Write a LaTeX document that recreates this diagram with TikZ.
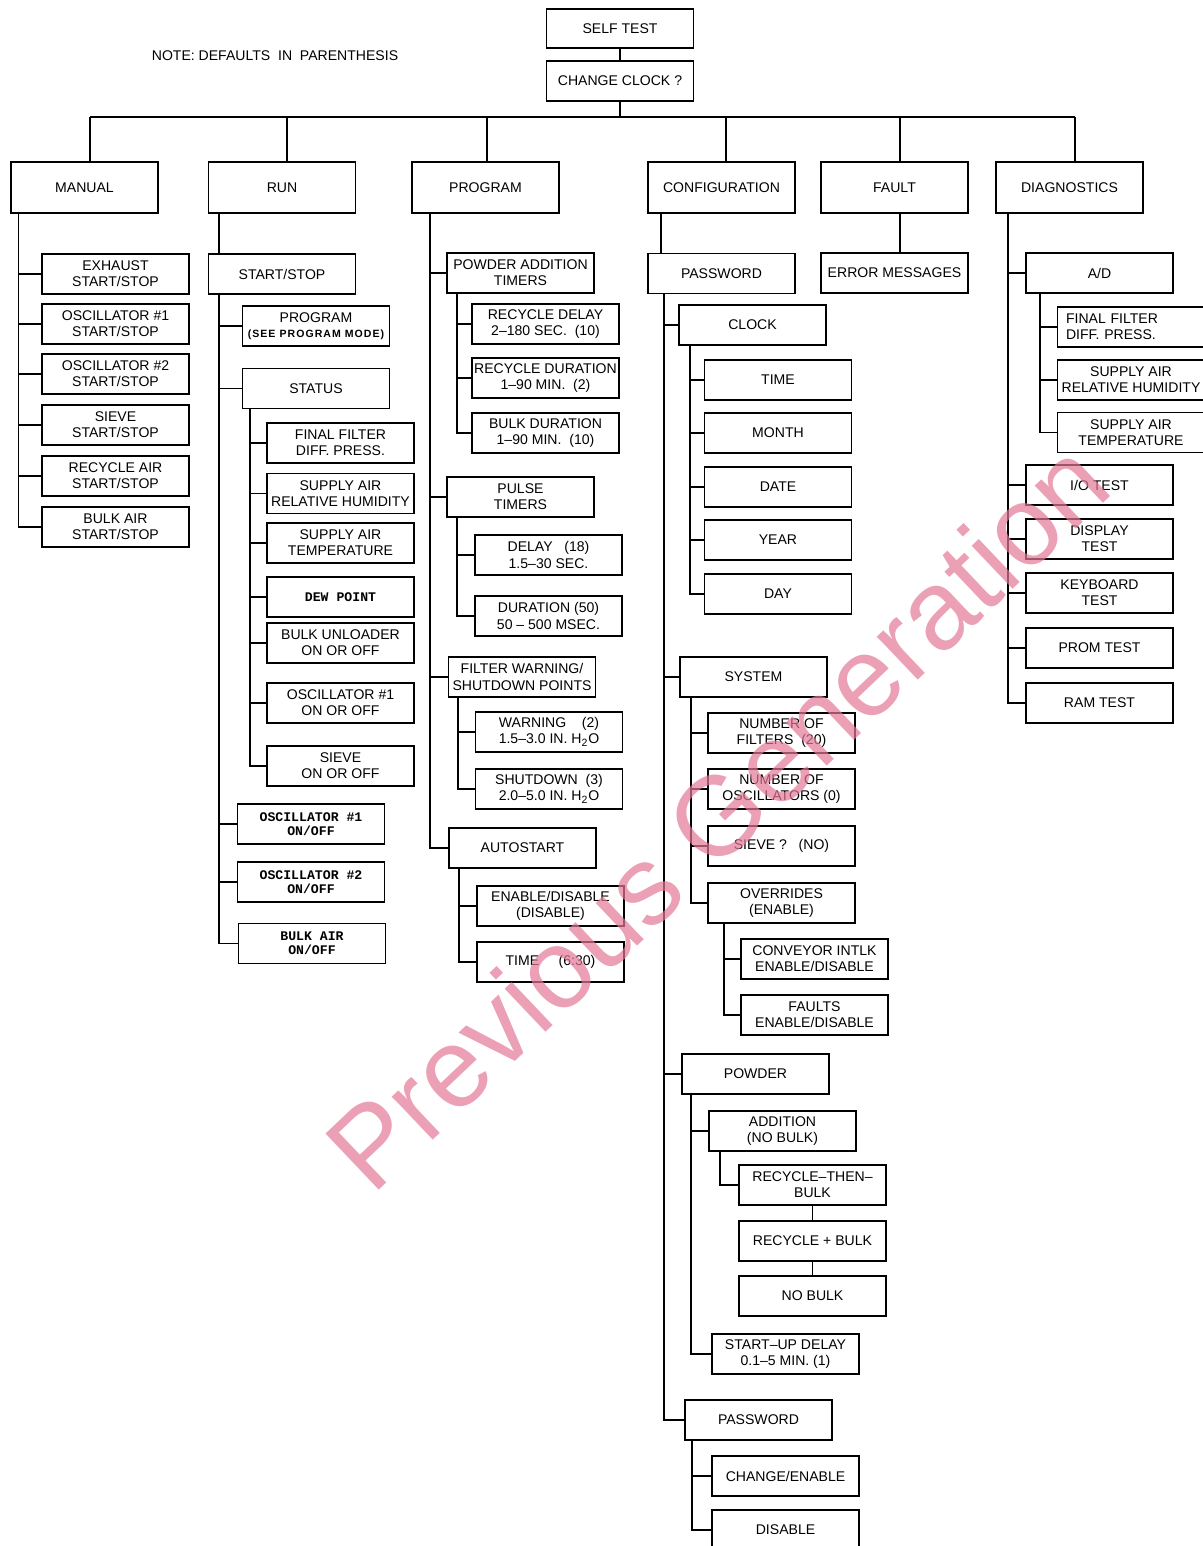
\documentclass[tikz,border=0pt]{standalone}
\usepackage{fontspec}
\setmainfont{Liberation Sans}
\setmonofont{Liberation Mono}
\newcommand\boxfont{\fontsize{8}{9.2}\selectfont}
\newcommand\pinfont{\ttfamily\bfseries\fontsize{7.5}{7.8}\selectfont}
\definecolor{stamp}{RGB}{226,120,150}
\tikzset{
  box/.style={draw,line width=0.85pt,minimum width=2.94cm,minimum height=0.8cm,align=center,inner sep=1pt,font=\boxfont},
  head/.style={box,minimum height=1.02cm},
  pin/.style={box,font=\pinfont},
  wire/.style={line width=0.6pt}
}
\begin{document}
\begin{tikzpicture}[x=0.02cm,y=-0.02cm]
\useasboundingbox (0,0) rectangle (1203,1546);
% top of the tree
\node[box,minimum height=0.78cm] (self) at (620,28.5) {SELF TEST};
\node[box] (clk) at (620,81) {CHANGE CLOCK ?};
\node[font=\boxfont] (note) at (275,56) {NOTE:\ DEFAULTS\ \ IN\ \ PARENTHESIS};
\draw[wire] (self) -- (clk);
\foreach \n/\x/\t in {man/84.5/MANUAL,run/282/RUN,prog/485.5/PROGRAM,conf/721.5/CONFIGURATION,flt/894.5/FAULT,diag/1069.5/DIAGNOSTICS}
  \node[head] (\n) at (\x,187.5) {\t};
\path
  (90,117) coordinate (bman) (287,117) coordinate (brun) (487,117) coordinate (bprog)
  (726,117) coordinate (bconf) (900,117) coordinate (bflt) (1075,117) coordinate (bdiag)
  (18.5,0) coordinate (xman) (219,0) coordinate (xrun) (250,0) coordinate (xst)
  (430,0) coordinate (xprog) (457,0) coordinate (xpat) (458,0) coordinate (xfw) (459,0) coordinate (xau)
  (661,0) coordinate (xconf) (664,0) coordinate (xpw) (690,0) coordinate (xck) (691,0) coordinate (xsy)
  (724,0) coordinate (xov) (720,0) coordinate (xadd) (692,0) coordinate (xpw2)
  (1008,0) coordinate (xdiag) (1040,0) coordinate (xad)
  ;
\draw[wire] (clk.south) -- (clk.south |- bman) (bman) -- (bdiag);
\foreach \n in {man,run,prog,conf,flt,diag} \draw[wire] (b\n) -- (b\n |- \n.north);

% manual
\foreach \i/\y/\t in {1/274/{EXHAUST\\START/STOP},2/324/{OSCILLATOR \#1\\START/STOP},3/374/{OSCILLATOR \#2\\START/STOP},4/425/{SIEVE\\START/STOP},5/476/{RECYCLE AIR\\START/STOP},6/527/{BULK AIR\\START/STOP}}
  \node[box] (man\i) at (115.5,\y) {\t};
\draw[wire] (xman |- man.south) |- (man6.west);
\foreach \i in {1,...,5} \draw[wire] (xman |- man\i.west) -- (man\i.west);

% run
\node[box] (ss) at (282,274) {START/STOP};
\node[box] (rpg) at (316,326) {PROGRAM\\[-1pt]{\fontsize{6}{6.5}\selectfont\bfseries\addfontfeature{LetterSpace=10}(SEE PROGRAM MODE)}};
\node[box] (stat) at (316,388.5) {STATUS};
\foreach \i/\y/\t in {1/443/{FINAL FILTER\\DIFF.\ PRESS.},2/493.5/{SUPPLY AIR\\RELATIVE HUMIDITY},3/543/{SUPPLY AIR\\TEMPERATURE},5/643/{BULK UNLOADER\\ON OR OFF},6/703/{OSCILLATOR \#1\\ON OR OFF},7/766/{SIEVE\\ON OR OFF}}
  \node[box] (st\i) at (340.5,\y) {\t};
\node[pin] (st4) at (340.5,597) {DEW POINT};
\node[pin] (rb1) at (311,824) {OSCILLATOR \#1\\ON/OFF};
\node[pin] (rb2) at (311,882) {OSCILLATOR \#2\\ON/OFF};
\node[pin] (rb3) at (312,943.5) {BULK AIR\\ON/OFF};
\draw[wire] (xrun |- run.south) -- (xrun |- ss.north);
\draw[wire] (xrun |- ss.south) |- (rb3.west);
\foreach \n in {rpg,stat,rb1,rb2} \draw[wire] (xrun |- \n.west) -- (\n.west);
\draw[wire] (xst |- stat.south) |- (st7.west);
\foreach \i in {1,...,6} \draw[wire] (xst |- st\i.west) -- (st\i.west);

% program
\node[box] (pat) at (520.5,273) {POWDER ADDITION\\TIMERS};
\foreach \i/\y/\t in {1/324/{RECYCLE DELAY\\2–180 SEC.\ \ (10)},2/378/{RECYCLE DURATION\\1–90 MIN.\ \ (2)},3/433/{BULK DURATION\\1–90 MIN.\ \ (10)}}
  \node[box] (pat\i) at (545.5,\y) {\t};
\node[box] (pul) at (520.5,497) {PULSE\\TIMERS};
\node[box] (pul1) at (548.5,555) {DELAY\ \ \ (18)\\1.5–30 SEC.};
\node[box] (pul2) at (548.5,616) {DURATION (50)\\50 – 500 MSEC.};
\node[box] (fw) at (522,677) {FILTER WARNING/\\SHUTDOWN POINTS};
\node[box] (fw1) at (549,732) {WARNING\ \ \ \ (2)\\1.5–3.0 IN. H\textsubscript{2}O};
\node[box] (fw2) at (549,789) {SHUTDOWN\ \ (3)\\2.0–5.0 IN. H\textsubscript{2}O};
\node[box] (au) at (522.5,848) {AUTOSTART};
\node[box] (au1) at (550.5,906) {ENABLE/DISABLE\\(DISABLE)};
\node[box] (au2) at (550.5,962) {TIME\ \ \ \ \ (6:30)};
\draw[wire] (xprog |- prog.south) |- (au.west);
\foreach \n in {pat,pul,fw} \draw[wire] (xprog |- \n.west) -- (\n.west);
\draw[wire] (xpat |- pat.south) |- (pat3.west);
\foreach \n in {pat1,pat2} \draw[wire] (xpat |- \n.west) -- (\n.west);
\draw[wire] (xpat |- pul.south) |- (pul2.west) (xpat |- pul1.west) -- (pul1.west);
\draw[wire] (xfw |- fw.south) |- (fw2.west) (xfw |- fw1.west) -- (fw1.west);
\draw[wire] (xau |- au.south) |- (au2.west) (xau |- au1.west) -- (au1.west);

% configuration
\node[box] (pw) at (721.5,273.5) {PASSWORD};
\node[box] (ck) at (752.5,325) {CLOCK};
\foreach \i/\y/\t in {1/380/TIME,2/433/MONTH,3/487/DATE,4/540/YEAR,5/594/DAY}
  \node[box] (ck\i) at (778,\y) {\t};
\node[box] (sy) at (753.5,677) {SYSTEM};
\foreach \i/\y/\t in {1/733/{NUMBER OF\\FILTERS\ \ (20)},2/789/{NUMBER OF\\OSCILLATORS (0)},3/846/{SIEVE ?\ \ \ (NO)},4/903/{OVERRIDES\\(ENABLE)}}
  \node[box] (sy\i) at (781.5,\y) {\t};
\node[box] (ov1) at (814.5,959) {CONVEYOR INTLK\\ENABLE/DISABLE};
\node[box] (ov2) at (814.5,1015) {FAULTS\\ENABLE/DISABLE};
\node[box] (pow) at (755.5,1074) {POWDER};
\node[box] (add) at (782.5,1131) {ADDITION\\(NO BULK)};
\node[box] (rtb) at (812.5,1185) {RECYCLE–THEN–\\BULK};
\node[box] (rpb) at (812.5,1241) {RECYCLE + BULK};
\node[box] (nob) at (812.5,1296) {NO BULK};
\node[box] (sud) at (785.5,1354) {START–UP DELAY\\0.1–5 MIN. (1)};
\node[box] (pw2) at (758.5,1420) {PASSWORD};
\node[box] (pc1) at (785.5,1476) {CHANGE/ENABLE};
\node[box] (pc2) at (785.5,1530) {DISABLE};
\draw[wire] (xconf |- conf.south) -- (xconf |- pw.north);
\draw[wire] (xpw |- pw.south) |- (pw2.west);
\foreach \n in {ck,sy,pow} \draw[wire] (xpw |- \n.west) -- (\n.west);
\draw[wire] (xck |- ck.south) |- (ck5.west);
\foreach \i in {1,...,4} \draw[wire] (xck |- ck\i.west) -- (ck\i.west);
\draw[wire] (xsy |- sy.south) |- (sy4.west);
\foreach \i in {1,...,3} \draw[wire] (xsy |- sy\i.west) -- (sy\i.west);
\draw[wire] (xov |- sy4.south) |- (ov2.west) (xov |- ov1.west) -- (ov1.west);
\draw[wire] (xsy |- pow.south) |- (sud.west) (xsy |- add.west) -- (add.west);
\draw[wire] (xadd |- add.south) |- (rtb.west);
\draw[wire] (rtb.south) -- (rpb.north) (rpb.south) -- (nob.north);
\draw[wire] (xpw2 |- pw2.south) |- (pc2.west) (xpw2 |- pc1.west) -- (pc1.west);

% fault
\node[box] (err) at (894.5,273) {ERROR MESSAGES};
\draw[wire] (bflt |- flt.south) -- (bflt |- err.north);

% diagnostics
\node[box] (ad) at (1099.5,273) {A/D};
\node[box,align=left,text width=2.6cm,inner xsep=0.17cm] (ad1) at (1131,327) {FINAL FILTER\\DIFF.\ PRESS.};
\node[box] (ad2) at (1131,380) {SUPPLY AIR\\RELATIVE HUMIDITY};
\node[box] (ad3) at (1131,432.5) {SUPPLY AIR\\TEMPERATURE};
\foreach \i/\y/\t in {1/485/{I/O TEST},2/539/{DISPLAY\\TEST},3/593/{KEYBOARD\\TEST},4/648/{PROM TEST},5/703/{RAM TEST}}
  \node[box] (dg\i) at (1099.5,\y) {\t};
\draw[wire] (xdiag |- diag.south) |- (dg5.west);
\foreach \n in {ad,dg1,dg2,dg3,dg4} \draw[wire] (xdiag |- \n.west) -- (\n.west);
\draw[wire] (xad |- ad.south) |- (ad3.west);
\foreach \n in {ad1,ad2} \draw[wire] (xad |- \n.west) -- (\n.west);

% watermark
\node[rotate=43.5,text=stamp,opacity=0.7,font=\fontsize{64}{64}\selectfont] (wm) at (717,815) {Previous Generation};
\end{tikzpicture}
\end{document}
